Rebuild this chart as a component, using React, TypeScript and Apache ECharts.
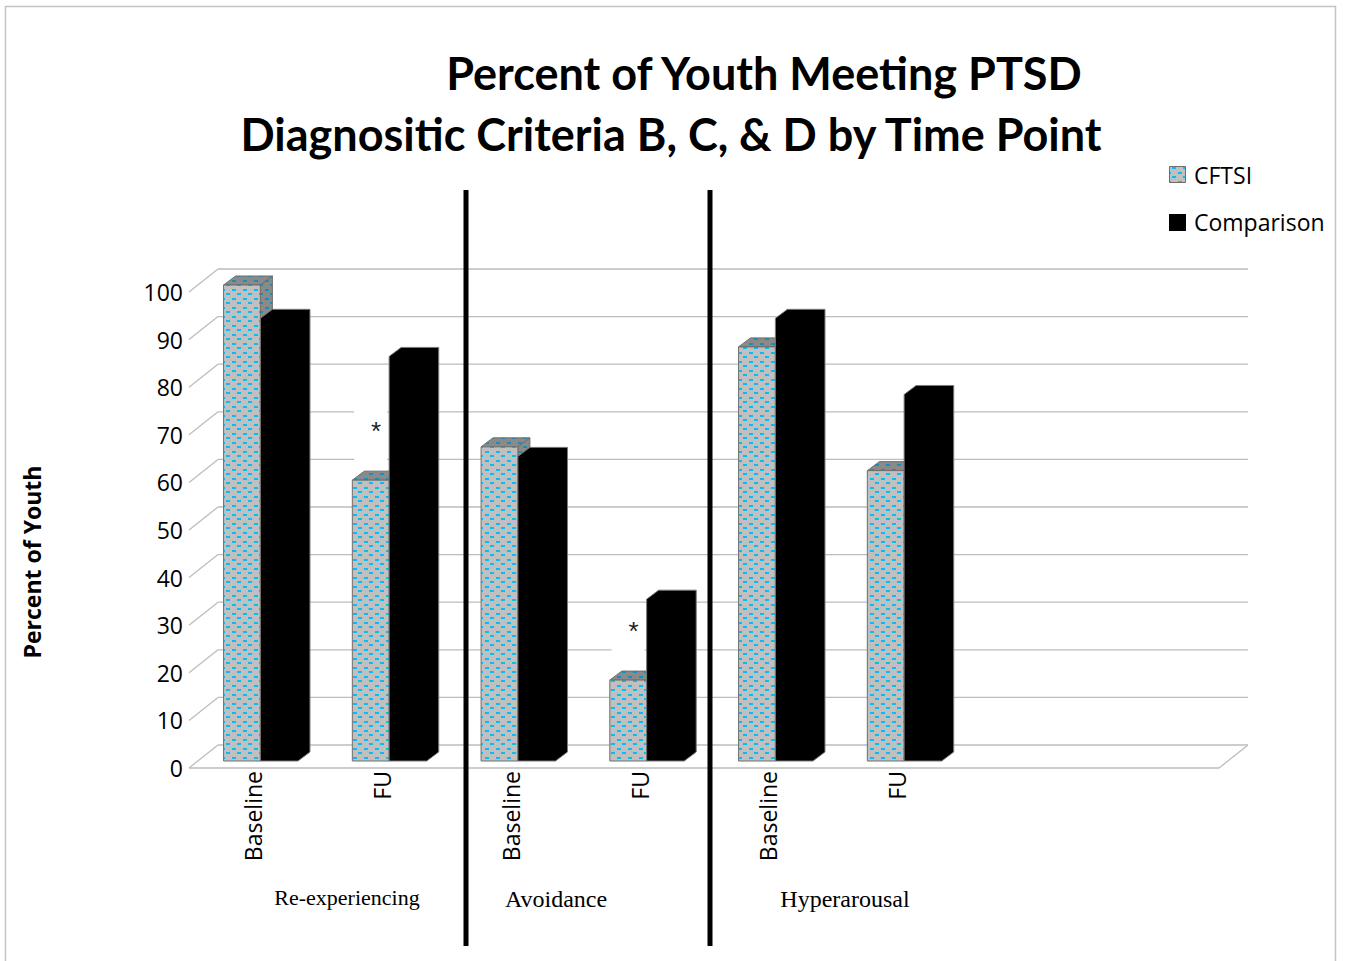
import React, { useEffect, useRef } from "react";
import * as echarts from "echarts";

const categories = ["Baseline", "FU", "Baseline", "FU", "Baseline", "FU", "", ""];
const cftsiValues = [100, 59, 66, 17, 87, 61];
const comparisonValues = [93, 85, 64, 34, 93, 77];
const yTicks = [0, 10, 20, 30, 40, 50, 60, 70, 80, 90, 100];
const significantIdx = [1, 3];
const groupLabels = ["Re-experiencing", "Avoidance", "Hyperarousal"];
const titleLine1 = "Percent of Youth Meeting PTSD";
const titleLine2 = "Diagnositic Criteria B, C, & D by Time Point";
const yAxisTitle = "Percent of Youth";
const seriesNames = ["CFTSI", "Comparison"];

const WALL_DX = 29;
const WALL_DY = 23;
const BAR_DX = 12;
const BAR_DY = 9;
const BAR_SHIFT_Y = 7;
const GRID_COLOR = "#bdbdbd";

function makeTile(bg: string, fg: string) {
  const c = document.createElement("canvas");
  c.width = 11;
  c.height = 9;
  const ctx = c.getContext("2d")!;
  ctx.fillStyle = bg;
  ctx.fillRect(0, 0, 11, 9);
  ctx.fillStyle = fg;
  ctx.fillRect(1, 1, 4, 2);
  ctx.fillRect(6, 5, 4, 2);
  return c;
}

export default function App() {
  const ref = useRef<HTMLDivElement>(null);
  useEffect(() => {
    if (!ref.current) return;
    const chart = echarts.init(ref.current, null, { renderer: "svg" });
    const lightTile = makeTile("#c0c0c0", "#08bdf4");
    const darkTile = makeTile("#8a8a8a", "#1590bb");
    const lightPattern: any = { image: lightTile, repeat: "repeat", imageWidth: 11, imageHeight: 9 };
    const darkPattern: any = { image: darkTile, repeat: "repeat", imageWidth: 11, imageHeight: 9 };

    const wallRender = (params: any, api: any) => {
      const v = api.value(1);
      const p = api.coord([0, v]);
      const left = params.coordSys.x;
      const right = left + params.coordSys.width;
      const y = p[1];
      const st = { stroke: GRID_COLOR, lineWidth: 1.3, fill: "none" };
      const children: any[] = [
        { type: "line", shape: { x1: left, y1: y, x2: left + WALL_DX, y2: y - WALL_DY }, style: st },
        { type: "line", shape: { x1: left + WALL_DX, y1: y - WALL_DY, x2: right + WALL_DX, y2: y - WALL_DY }, style: st },
      ];
      if (v === 0) {
        children.push({ type: "line", shape: { x1: left, y1: y, x2: right, y2: y }, style: st });
        children.push({ type: "line", shape: { x1: right, y1: y, x2: right + WALL_DX, y2: y - WALL_DY }, style: st });
      }
      return { type: "group", children };
    };

    const barRender = (kind: number) => (params: any, api: any) => {
      const idx = api.value(0);
      const val = api.value(1);
      const base = api.coord([idx, 0]);
      const top = api.coord([idx, val]);
      const cx = base[0];
      const yb = base[1] - BAR_SHIFT_Y;
      const yt = top[1] - BAR_SHIFT_Y;
      let x0: number, x1: number;
      if (kind === 0) {
        x0 = cx - 29.8;
        x1 = cx + 7;
        return {
          type: "group",
          children: [
            {
              type: "polygon",
              shape: { points: [[x1, yt], [x1 + BAR_DX, yt - BAR_DY], [x1 + BAR_DX, yb - BAR_DY], [x1, yb]] },
              style: { fill: darkPattern, stroke: "#6e6e6e", lineWidth: 1 },
            },
            {
              type: "polygon",
              shape: { points: [[x0, yt], [x0 + BAR_DX, yt - BAR_DY], [x1 + BAR_DX, yt - BAR_DY], [x1, yt]] },
              style: { fill: darkPattern, stroke: "#6e6e6e", lineWidth: 1 },
            },
            {
              type: "rect",
              shape: { x: x0, y: yt, width: x1 - x0, height: yb - yt },
              style: { fill: lightPattern, stroke: "#6e6e6e", lineWidth: 1 },
            },
          ],
        };
      }
      x0 = cx + 7;
      x1 = cx + 44.6;
      return {
        type: "polygon",
        shape: {
          points: [
            [x0, yb],
            [x0, yt],
            [x0 + BAR_DX, yt - BAR_DY],
            [x1 + BAR_DX, yt - BAR_DY],
            [x1 + BAR_DX, yb - BAR_DY],
            [x1, yb],
          ],
        },
        style: { fill: "#000", stroke: "#7a7a7a", lineWidth: 1 },
      };
    };

    const noteRender = (params: any, api: any) => {
      const idx = api.value(0);
      const val = api.value(1);
      const base = api.coord([idx, 0]);
      const top = api.coord([idx, val]);
      const cx = base[0];
      const yt = top[1] - BAR_SHIFT_Y;
      return {
        type: "group",
        children: [
          { type: "rect", shape: { x: cx - 28, y: yt - 75, width: 33, height: 65 }, style: { fill: "#fff" } },
          {
            type: "text",
            x: cx - 6,
            y: yt - 49,
            style: {
              text: "*",
              font: "26px 'Liberation Sans'",
              fill: "#222",
              textAlign: "center",
              textVerticalAlign: "middle",
            },
          },
        ],
      };
    };

    const sepStyle = { stroke: "#000", lineWidth: 5 };
    const option: any = {
      animation: false,
      grid: { left: 189, right: 126, top: 292, bottom: 193, containLabel: false },
      xAxis: {
        type: "category",
        data: categories,
        axisLine: { show: false },
        axisTick: { show: false },
        splitLine: { show: false },
        axisLabel: {
          rotate: 90,
          interval: 0,
          margin: 3,
          color: "#000",
          fontSize: 23,
          fontFamily: "'Open Sans'",
        },
      },
      yAxis: {
        type: "value",
        min: 0,
        max: 100,
        interval: 10,
        axisLine: { show: false },
        axisTick: { show: false },
        splitLine: { show: false },
        axisLabel: { margin: 6, color: "#000", fontSize: 23, fontFamily: "'Open Sans'" },
      },
      series: [
        {
          type: "custom",
          name: "walls",
          renderItem: wallRender,
          data: yTicks.map((v) => [0, v]),
          silent: true,
          z: 1,
        },
        {
          type: "custom",
          name: "notes",
          renderItem: noteRender,
          data: significantIdx.map((i) => [i, cftsiValues[i]]),
          silent: true,
          z: 2,
        },
        {
          type: "custom",
          name: seriesNames[0],
          renderItem: barRender(0),
          data: cftsiValues.map((v, i) => [i, v]),
          z: 3,
        },
        {
          type: "custom",
          name: seriesNames[1],
          renderItem: barRender(1),
          data: comparisonValues.map((v, i) => [i, v]),
          z: 4,
        },
      ],
      graphic: [
        {
          type: "rect",
          z: 0,
          shape: { x: 5.5, y: 6.5, width: 1330, height: 980 },
          style: { fill: "none", stroke: "#c4c4c4", lineWidth: 1.5 },
        },
        {
          type: "text",
          x: 764,
          y: 73,
          style: { text: titleLine1, font: "bold 45px Lato", fill: "#000", textAlign: "center", textVerticalAlign: "middle" },
        },
        {
          type: "text",
          x: 671,
          y: 134,
          style: { text: titleLine2, font: "bold 45px Lato", fill: "#000", textAlign: "center", textVerticalAlign: "middle" },
        },
        {
          type: "text",
          x: 32,
          y: 562,
          rotation: Math.PI / 2,
          style: { text: yAxisTitle, font: "bold 23px 'Open Sans'", fill: "#000", textAlign: "center", textVerticalAlign: "middle" },
        },
        {
          type: "rect",
          shape: { x: 1169.5, y: 166.5, width: 16, height: 16 },
          style: { fill: lightPattern, stroke: "#6e6e6e", lineWidth: 1 },
        },
        {
          type: "text",
          x: 1194,
          y: 175,
          style: { text: seriesNames[0], font: "23px 'Open Sans'", fill: "#000", textAlign: "left", textVerticalAlign: "middle" },
        },
        {
          type: "rect",
          shape: { x: 1169, y: 214, width: 17, height: 17 },
          style: { fill: "#000" },
        },
        {
          type: "text",
          x: 1194,
          y: 222,
          style: { text: seriesNames[1], font: "23px 'Open Sans'", fill: "#000", textAlign: "left", textVerticalAlign: "middle" },
        },
        {
          type: "text",
          x: 347,
          y: 897,
          style: { text: groupLabels[0], font: "22px 'Liberation Serif'", fill: "#000", textAlign: "center", textVerticalAlign: "middle" },
        },
        {
          type: "text",
          x: 556,
          y: 899,
          style: { text: groupLabels[1], font: "24px 'Liberation Serif'", fill: "#000", textAlign: "center", textVerticalAlign: "middle" },
        },
        {
          type: "text",
          x: 845,
          y: 899,
          style: { text: groupLabels[2], font: "24px 'Liberation Serif'", fill: "#000", textAlign: "center", textVerticalAlign: "middle" },
        },
        { type: "line", z: 100, shape: { x1: 466, y1: 190, x2: 466, y2: 946 }, style: sepStyle },
        { type: "line", z: 100, shape: { x1: 710, y1: 190, x2: 710, y2: 946 }, style: sepStyle },
      ],
    };
    chart.setOption(option);
    return () => chart.dispose();
  }, []);
  return (
    <div
      ref={ref}
      style={{ position: "fixed", left: 0, top: 0, width: 1345, height: 961, background: "#fff" }}
    />
  );
}
